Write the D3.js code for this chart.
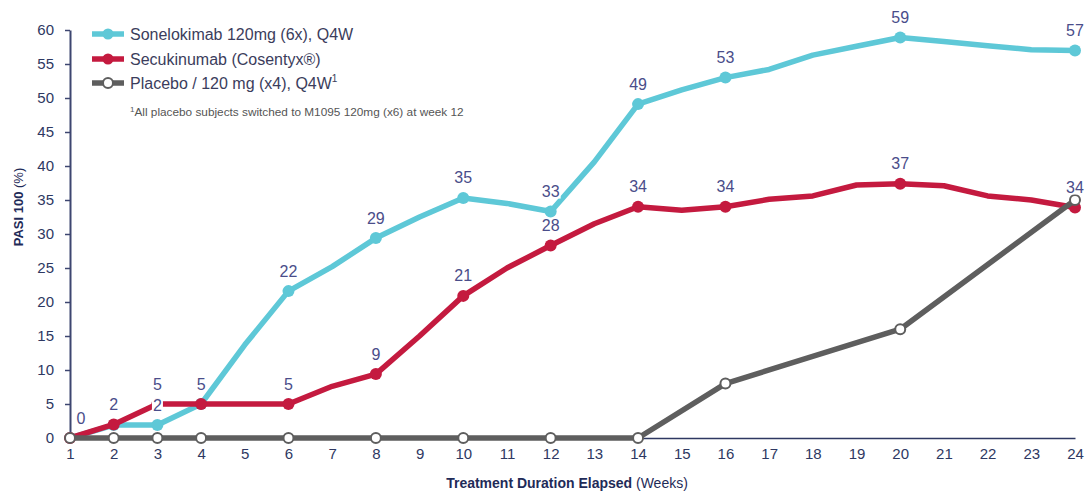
<!DOCTYPE html>
<html>
<head>
<meta charset="utf-8">
<script src="https://cdn.jsdelivr.net/npm/d3@7"></script>
<style>
  html, body { margin: 0; padding: 0; background: #fff; }
  svg { display: block; font-family: "Liberation Sans", Arial, sans-serif; }
</style>
</head>
<body>
<svg id="chart" width="1089" height="493"></svg>
<script>
// ---- data ----
const weeks = [1,2,3,4,5,6,7,8,9,10,11,12,13,14,15,16,17,18,19,20,21,22,23,24];
const yTicks = [0,5,10,15,20,25,30,35,40,45,50,55,60];
const seriesNames = ["Sonelokimab 120mg (6x), Q4W", "Secukinumab (Cosentyx®)", "Placebo / 120 mg (x4), Q4W"];
const sonelokimab = [0,1.9,1.9,5,13.7,21.6,25.2,29.4,32.5,35.3,34.5,33.3,40.6,49.1,51.2,53,54.2,56.3,57.6,58.9,58.3,57.7,57.1,57.0];
const secukinumab = [0,2,5,5,5,5,7.6,9.4,15,20.9,25,28.3,31.5,34,33.5,34,35.1,35.6,37.2,37.4,37.1,35.6,35,33.9];
const placebo = [0,0,0,0,null,0,null,0,null,0,null,0,null,0,null,8,null,null,null,16,null,null,null,35];
const sonMarkerWeeks = [2,3,4,6,8,10,12,14,16,20,24];
const secMarkerWeeks = [1,2,3,4,6,8,10,12,14,16,20,24];
const plaMarkerWeeks = [1,2,3,4,6,8,10,12,14,16,20,24];
const sonLabelWeeks = [3,4,6,8,10,12,14,16,20,24];
const secLabelWeeks = [1,2,3,6,8,10,12,14,16,20,24];
const footnote = "All placebo subjects switched to M1095 120mg (x6) at week 12";

// ---- layout ----
const svg = d3.select("#chart");
const x = d3.scaleLinear().domain([1,24]).range([70,1075]);
const y = d3.scaleLinear().domain([0,60]).range([438,30]);
const colors = { son: "#5ec8d7", sec: "#c41a3f", pla: "#5e5e5e" };
const axisColor = "#2e3862";
const labelColor = "#4a4d8a";

// y axis
const gy = svg.append("g").attr("transform", `translate(${x(1)},0)`)
  .call(d3.axisLeft(y).tickValues(yTicks).tickSize(5).tickSizeOuter(0).tickPadding(11));
gy.select(".domain").attr("stroke", "#3d4670").attr("stroke-width", 2);
gy.selectAll(".tick line").attr("stroke", "#3d4670").attr("stroke-width", 1.5);
gy.selectAll(".tick text").attr("fill", axisColor).style("font-size", "15px");

// x axis
const gx = svg.append("g").attr("transform", `translate(0,${y(0)})`)
  .call(d3.axisBottom(x).tickValues(weeks).tickSize(0).tickPadding(10).tickFormat(d3.format("d")));
gx.select(".domain").attr("stroke", axisColor).attr("stroke-width", 1.5);
gx.selectAll(".tick text").attr("fill", axisColor).style("font-size", "15px");

// axis titles
const xt = svg.append("text").attr("x", 567).attr("y", 488).attr("text-anchor", "middle")
  .attr("fill", "#1f2b58").style("font-size", "14px");
xt.append("tspan").attr("font-weight", "bold").text("Treatment Duration Elapsed");
xt.append("tspan").text(" (Weeks)");

const yt = svg.append("text").attr("transform", "translate(23,207) rotate(-90)").attr("text-anchor", "middle")
  .attr("fill", "#1f2b58").style("font-size", "13px");
yt.append("tspan").attr("font-weight", "bold").text("PASI 100");
yt.append("tspan").text(" (%)");

// lines
const line = d3.line().x(d => x(d.w)).y(d => y(d.v)).curve(d3.curveLinear);
function pts(vals) { return weeks.map((w,i) => ({w, v: vals[i]})).filter(d => d.v !== null); }
function drawSeries(vals, color, markerWeeks, hollow) {
  const data = pts(vals);
  svg.append("path").datum(data).attr("d", line).attr("fill", "none")
    .attr("stroke", color).attr("stroke-width", 5.5).attr("stroke-linejoin", "round").attr("stroke-linecap", "round");
  const md = data.filter(d => markerWeeks.includes(d.w));
  svg.append("g").selectAll("circle").data(md).join("circle")
    .attr("cx", d => x(d.w)).attr("cy", d => y(d.v))
    .attr("r", hollow ? 5 : 6)
    .attr("fill", hollow ? "#fff" : color)
    .attr("stroke", hollow ? color : "none")
    .attr("stroke-width", hollow ? 2 : 0);
}
drawSeries(sonelokimab, colors.son, sonMarkerWeeks, false);
drawSeries(secukinumab, colors.sec, secMarkerWeeks, false);
drawSeries(placebo, colors.pla, plaMarkerWeeks, true);

// data labels
function drawLabels(vals, labelWeeks) {
  labelWeeks.forEach(w => {
    const v = vals[weeks.indexOf(w)];
    const g = svg.append("g");
    const cx = x(w) + (w === 1 ? 11 : 0);
    const t = g.append("text").attr("x", cx).attr("y", y(v) - 20)
      .attr("text-anchor", "middle").attr("dominant-baseline", "central")
      .attr("fill", labelColor).style("font-size", "16px").text(d3.format(".0f")(v));
    const bb = t.node().getBBox();
    g.insert("rect", "text").attr("x", bb.x - 1).attr("y", y(v) - 20 - 7)
      .attr("width", bb.width + 2).attr("height", 14).attr("fill", "#fff");
  });
}
drawLabels(secukinumab, secLabelWeeks);
drawLabels(sonelokimab, sonLabelWeeks);

// legend
const legend = svg.append("g");
const legendRows = [
  { name: seriesNames[0], color: colors.son, hollow: false, y: 34 },
  { name: seriesNames[1], color: colors.sec, hollow: false, y: 59 },
  { name: seriesNames[2], color: colors.pla, hollow: true, y: 83 }
];
legendRows.forEach(r => {
  legend.append("line").attr("x1", 92).attr("x2", 124).attr("y1", r.y).attr("y2", r.y)
    .attr("stroke", r.color).attr("stroke-width", 5.5);
  legend.append("circle").attr("cx", 108).attr("cy", r.y).attr("r", r.hollow ? 5 : 5.5)
    .attr("fill", r.hollow ? "#fff" : r.color).attr("stroke", r.hollow ? r.color : "none").attr("stroke-width", 2);
  const t = legend.append("text").attr("x", 130).attr("y", r.y).attr("dominant-baseline", "central")
    .attr("fill", "#3b3d5c").style("font-size", "16px").text(r.name);
  if (r.hollow) t.append("tspan").attr("dy", -5).style("font-size", "10px").text("1");
});
const fn = legend.append("text").attr("x", 130).attr("y", 116).attr("fill", "#555").style("font-size", "11.8px");
fn.append("tspan").attr("dy", -4).style("font-size", "8px").text("1");
fn.append("tspan").attr("dy", 4).text(footnote);
</script>
</body>
</html>
